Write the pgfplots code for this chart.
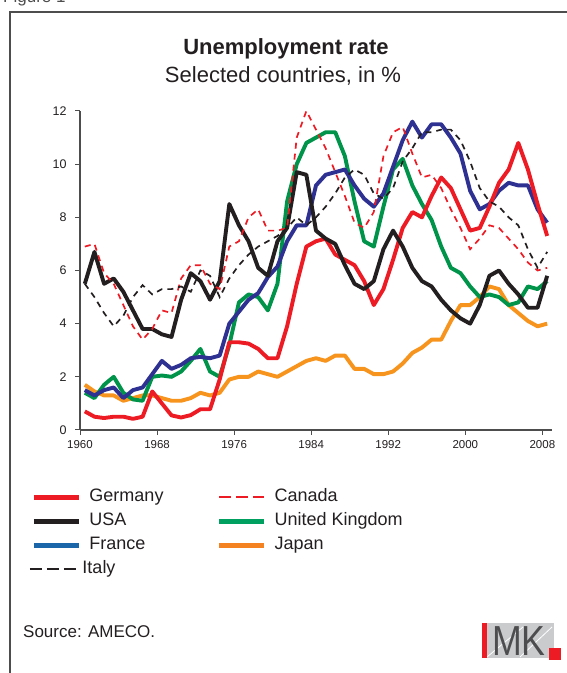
\documentclass[border=0pt]{standalone}
\usepackage{fontspec}
\setmainfont{Liberation Sans}
\usepackage{pgfplots}
\usepackage{pgfplotstable}
\pgfplotsset{compat=1.18}

\definecolor{deRed}{HTML}{ED1C24}
\definecolor{usBlack}{HTML}{231F20}
\definecolor{frBlue}{HTML}{2E3192}
\definecolor{frLeg}{HTML}{1B66A8}
\definecolor{ukGreen}{HTML}{00934A}
\definecolor{ukLeg}{HTML}{00A060}
\definecolor{jpOrange}{HTML}{F7941D}
\definecolor{jpLeg}{HTML}{F58220}
\definecolor{frameGray}{HTML}{4D4D4D}
\definecolor{logoGray}{HTML}{C9CBCC}
\definecolor{logoDark}{HTML}{4D4D4F}

% unemployment rate, in %
\pgfplotstableread{
year de    us   fr    it    ca    uk    jp
1960 0.70  5.5  1.50  5.5   6.9   1.40  1.70
1961 0.50  6.7  1.30  5.0   7.0   1.20  1.45
1962 0.45  5.5  1.50  4.4   5.9   1.70  1.30
1963 0.50  5.7  1.60  3.9   5.5   2.00  1.30
1964 0.50  5.2  1.20  4.3   4.7   1.40  1.10
1965 0.42  4.5  1.50  5.0   3.9   1.15  1.20
1966 0.50  3.8  1.60  5.45  3.4   1.10  1.30
1967 1.45  3.8  2.10  5.1   3.8   2.00  1.30
1968 1.00  3.6  2.60  5.3   4.5   2.05  1.20
1969 0.55  3.5  2.30  5.3   4.4   2.00  1.10
1970 0.47  4.9  2.45  5.4   5.7   2.20  1.10
1971 0.56  5.9  2.70  5.2   6.2   2.60  1.20
1972 0.78  5.6  2.75  6.0   6.2   3.05  1.40
1973 0.78  4.9  2.70  5.8   5.5   2.20  1.30
1974 1.90  5.6  2.80  5.0   5.3   2.00  1.40
1975 3.30  8.5  4.00  5.7   6.9   3.20  1.90
1976 3.30  7.7  4.45  6.2   7.1   4.80  2.00
1977 3.25  7.1  4.90  6.6   8.0   5.10  2.00
1978 3.05  6.1  5.15  6.9   8.3   5.00  2.20
1979 2.70  5.8  5.75  7.1   7.5   4.50  2.10
1980 2.70  7.1  6.15  7.3   7.5   5.50  2.00
1981 3.90  7.6  7.10  7.6   7.6   8.60  2.20
1982 5.50  9.7  7.70  8.0   11.0  10.00 2.40
1983 6.90  9.6  7.70  7.7   12.0  10.80 2.60
1984 7.10  7.5  9.20  8.0   11.3  11.00 2.70
1985 7.20  7.2  9.60  8.4   10.6  11.20 2.60
1986 6.60  7.0  9.70  8.9   9.7   11.20 2.80
1987 6.40  6.2  9.80  9.5   8.8   10.30 2.80
1988 6.20  5.5  9.20  9.8   7.8   8.60  2.30
1989 5.60  5.3  8.70  9.6   7.6   7.10  2.30
1990 4.70  5.6  8.40  8.9   8.2   6.90  2.10
1991 5.30  6.8  8.90  8.7   10.3  8.40  2.10
1992 6.40  7.5  9.90  9.1   11.2  9.80  2.20
1993 7.60  6.9  10.90 10.1  11.4  10.20 2.50
1994 8.20  6.1  11.60 10.6  10.4  9.20  2.90
1995 8.00  5.6  11.00 11.2  9.5   8.50  3.10
1996 8.80  5.4  11.50 11.2  9.6   7.90  3.40
1997 9.50  4.9  11.50 11.3  9.1   6.90  3.40
1998 9.10  4.5  11.00 11.3  8.3   6.10  4.10
1999 8.30  4.2  10.40 10.9  7.6   5.90  4.70
2000 7.50  4.0  9.00  10.1  6.8   5.40  4.70
2001 7.60  4.7  8.30  9.1   7.2   5.00  5.00
2002 8.40  5.8  8.50  8.6   7.7   5.10  5.40
2003 9.30  6.0  9.00  8.4   7.6   5.00  5.30
2004 9.80  5.5  9.30  8.0   7.2   4.70  4.70
2005 10.80 5.1  9.20  7.7   6.8   4.80  4.40
2006 9.80  4.6  9.20  6.8   6.3   5.40  4.10
2007 8.50  4.6  8.30  6.1   6.0   5.30  3.90
2008 7.30  5.8  7.80  6.7   6.1   5.60  4.00
}\unemp

\begin{document}
\begin{tikzpicture}[x=1pt,y=1pt]
\useasboundingbox (0,0) rectangle (566,673);

% frame and headings
\draw[line width=1.3pt, frameGray] (10,-5) -- (10,661) -- (572,661);
\node[anchor=base west, inner sep=0pt, font=\fontsize{17}{17}\selectfont, text=frameGray] at (3,670) {Figure 1};
\node[anchor=base, inner sep=0pt, font=\bfseries\fontsize{22}{22}\selectfont, text=usBlack] at (286,618) {Unemployment rate};
\node[anchor=base, inner sep=0pt, font=\fontsize{22}{22}\selectfont, text=usBlack] at (283,590) {Selected countries, in \%};

\begin{axis}[
    at={(80pt,243pt)}, anchor=south west,
    scale only axis, width=472pt, height=319pt,
    xmin=1959.5, xmax=2008.5,
    ymin=0, ymax=12,
    axis lines=left,
    axis line style={-, line width=1.1pt, color=frameGray},
    tick style={line width=1pt, color=frameGray},
    tick align=outside,
    major tick length=5pt,
    xtick={1959.5,1967.5,1975.5,1983.5,1991.5,1999.5,2007.5},
    xticklabels={1960,1968,1976,1984,1992,2000,2008},
    ytick={0,2,4,6,8,10,12},
    xticklabel style={font=\fontsize{11.5}{11.5}\selectfont, text=usBlack, yshift=-2pt},
    yticklabel style={font=\fontsize{12.5}{12.5}\selectfont, text=usBlack, xshift=-5pt},
    /pgf/number format/assume math mode=true,
    clip=false,
    legend columns=2,
    legend cell align=left,
    legend image code/.code={\draw[#1] (0pt,0pt) -- (45pt,0pt);},
    legend style={
        at={(axis description cs:-0.1085,-0.18)}, anchor=north west,
        draw=none, fill=none, inner sep=0pt,
        font=\fontsize{18}{18}\selectfont,
        row sep=5pt,
        nodes={inner sep=1pt, text height=13pt, text depth=4pt, text=usBlack},
        /tikz/every odd column/.append style={column sep=7pt},
        /tikz/every even column/.append style={column sep=52pt},
    },
]
\addplot[forget plot, jpOrange, line width=3.9pt, line join=round] table[x=year, y=jp] {\unemp};
\addplot[forget plot, ukGreen, line width=3.9pt, line join=round] table[x=year, y=uk] {\unemp};
\addplot[forget plot, frBlue, line width=3.9pt, line join=round] table[x=year, y=fr] {\unemp};
\addplot[forget plot, deRed, line width=3.9pt, line join=round] table[x=year, y=de] {\unemp};
\addplot[forget plot, usBlack, line width=3.9pt, line join=round] table[x=year, y=us] {\unemp};
\addplot[forget plot, deRed, line width=1.7pt, dash pattern=on 6pt off 5pt] table[x=year, y=ca] {\unemp};
\addplot[forget plot, usBlack, line width=1.7pt, dash pattern=on 6pt off 5pt] table[x=year, y=it] {\unemp};

\addlegendimage{deRed, line width=5pt}
\addlegendentry{Germany}
\addlegendimage{deRed, line width=2pt, dash pattern=on 12pt off 5pt}
\addlegendentry{Canada}
\addlegendimage{usBlack, line width=5pt}
\addlegendentry{USA}
\addlegendimage{ukLeg, line width=5pt}
\addlegendentry{United Kingdom}
\addlegendimage{frLeg, line width=5pt}
\addlegendentry{France}
\addlegendimage{jpLeg, line width=5pt}
\addlegendentry{Japan}
\addlegendimage{legend image code/.code={\draw[usBlack, line width=2pt, dash pattern=on 12pt off 5pt] (-4pt,0pt) -- (44pt,0pt);}}
\addlegendentry{\hspace{-7pt}Italy}
\end{axis}

% source and logo
\node[anchor=base west, inner sep=0pt, font=\fontsize{17}{17}\selectfont, text=usBlack] at (23,35) {Source: AMECO.};
\fill[logoGray] (482,15) rectangle (554,50);
\draw[white, line width=0.8pt] (487,16) -- (523,46);
\draw[white, line width=0.8pt] (520,16) -- (552,46);
\node[anchor=base, inner sep=0pt, font=\fontsize{42}{42}\selectfont, text=logoDark, xscale=0.85] at (519,17) {MK};
\fill[deRed] (482,15) rectangle (487,50);
\fill[deRed] (549,13) rectangle (561,25);
\end{tikzpicture}
\end{document}
